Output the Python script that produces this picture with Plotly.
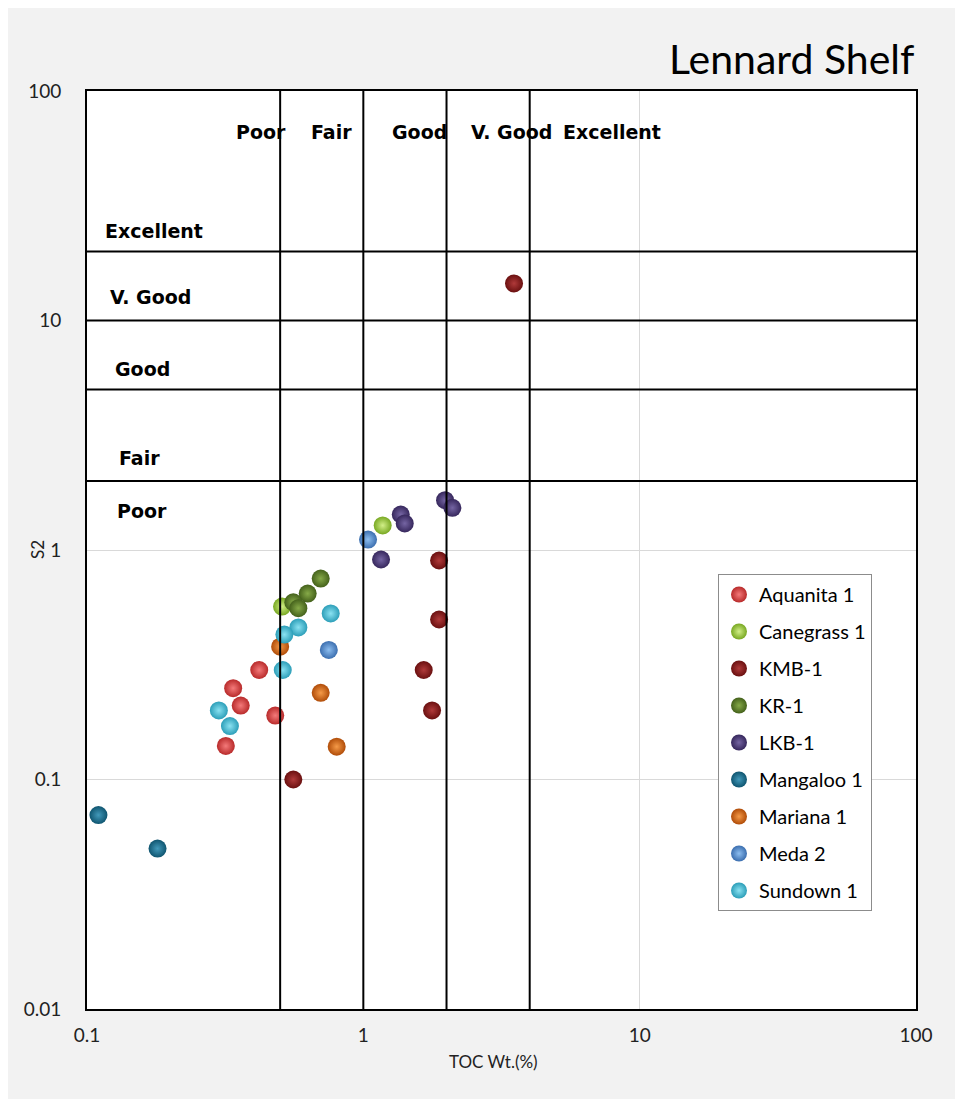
import plotly.graph_objects as go
import math

# ---------------- data ----------------
wells = ["Aquanita 1", "Canegrass 1", "KMB-1", "KR-1", "LKB-1",
         "Mangaloo 1", "Mariana 1", "Meda 2", "Sundown 1"]

aquanita_toc = [0.42, 0.338, 0.36, 0.48, 0.318]
aquanita_s2 = [0.30, 0.25, 0.21, 0.19, 0.14]

canegrass_toc = [1.175, 0.508]
canegrass_s2 = [1.28, 0.567]

kmb_toc = [3.51, 1.88, 1.88, 1.654, 1.773, 0.558]
kmb_s2 = [14.5, 0.90, 0.498, 0.30, 0.20, 0.10]

kr_toc = [0.701, 0.629, 0.558, 0.582]
kr_s2 = [0.751, 0.646, 0.592, 0.558]

lkb_toc = [1.976, 2.10, 1.366, 1.412, 1.159]
lkb_s2 = [1.648, 1.527, 1.428, 1.305, 0.909]

mangaloo_toc = [0.11, 0.18]
mangaloo_s2 = [0.07, 0.05]

mariana_toc = [0.50, 0.701, 0.801]
mariana_s2 = [0.379, 0.2385, 0.139]

meda_toc = [1.04, 0.75]
meda_s2 = [1.11, 0.367]

sundown_toc = [0.762, 0.582, 0.518, 0.511, 0.30, 0.329]
sundown_s2 = [0.529, 0.46, 0.428, 0.30, 0.20, 0.171]

toc_data = [aquanita_toc, canegrass_toc, kmb_toc, kr_toc, lkb_toc,
            mangaloo_toc, mariana_toc, meda_toc, sundown_toc]
s2_data = [aquanita_s2, canegrass_s2, kmb_s2, kr_s2, lkb_s2,
           mangaloo_s2, mariana_s2, meda_s2, sundown_s2]

# classification thresholds
toc_thresholds = [0.5, 1, 2, 4]
s2_thresholds = [2, 5, 10, 20]
class_labels = ["Poor", "Fair", "Good", "V. Good", "Excellent"]

x_ticks = [0.1, 1, 10, 100]
x_ticklabels = ["0.1", "1", "10", "100"]
y_ticks = [0.01, 0.1, 1, 10, 100]
y_ticklabels = ["0.01", "0.1", "1", "10", "100"]

# ---------------- styles ----------------
edge_colors = ["#b82a2a", "#78a822", "#6a1010", "#44611b", "#36275c",
               "#0f5570", "#b04c08", "#3b6eaf", "#2c9eb8"]
center_colors = ["#f47a7a", "#d2ef88", "#b03a3a", "#86aa48", "#7565a3",
                 "#4299ba", "#f59a48", "#8dbef0", "#8ae2f2"]

# label positions (data units)
top_label_x = [0.425, 0.77, 1.6, 3.44, 7.95]
top_label_y = 66
left_label_x = [0.1263, 0.1284, 0.1242, 0.119, 0.1143]
left_label_y = [1.48, 2.52, 6.15, 12.66, 24.5]

FONT = "Lato"
BOLD_FONT = "DejaVu Sans"

fig = go.Figure()

for i, name in enumerate(wells):
    fig.add_trace(go.Scatter(
        x=toc_data[i], y=s2_data[i], mode="markers", name=name,
        legendgroup=name,
        marker=dict(size=18, color=edge_colors[i],
                    gradient=dict(type="radial", color=center_colors[i]),
                    line=dict(width=0)),
    ))

# classification lines (drawn above markers)
for t in toc_thresholds:
    fig.add_trace(go.Scatter(x=[t, t], y=[y_ticks[0], y_ticks[-1]], mode="lines",
                             line=dict(color="black", width=2),
                             showlegend=False, hoverinfo="skip"))
for t in s2_thresholds:
    fig.add_trace(go.Scatter(x=[x_ticks[0], x_ticks[-1]], y=[t, t], mode="lines",
                             line=dict(color="black", width=2),
                             showlegend=False, hoverinfo="skip"))

annotations = []
for lab, xv in zip(class_labels, top_label_x):
    annotations.append(dict(x=math.log10(xv), y=math.log10(top_label_y), xref="x", yref="y",
                            text="<b>%s</b>" % lab, showarrow=False,
                            font=dict(family=BOLD_FONT, size=19, color="black"),
                            xanchor="center", yanchor="middle"))
for lab, xv, yv in zip(class_labels, left_label_x, left_label_y):
    annotations.append(dict(x=math.log10(xv), y=math.log10(yv), xref="x", yref="y",
                            text="<b>%s</b>" % lab, showarrow=False,
                            font=dict(family=BOLD_FONT, size=19, color="black"),
                            xanchor="left", yanchor="middle"))
# title
annotations.append(dict(x=1.0, y=1.0, xref="paper", yref="paper", yshift=33,
                        text="Lennard Shelf", showarrow=False,
                        font=dict(family=FONT, size=41, color="black"),
                        xanchor="right", yanchor="middle"))
# axis titles
annotations.append(dict(x=0.49, y=-0.0577, xref="paper", yref="paper",
                        text="TOC Wt.(%)", showarrow=False,
                        font=dict(family=FONT, size=17, color="#222"),
                        xanchor="center", yanchor="middle"))
annotations.append(dict(x=-0.0603, y=0.5, xref="paper", yref="paper",
                        text="S2", showarrow=False, textangle=-90,
                        font=dict(family=FONT, size=17, color="#222"),
                        xanchor="center", yanchor="middle"))

W, H = 955, 1091
ml, mt = 79, 83
pw, ph = 829, 918
mr, mb = W - ml - pw, H - mt - ph

fig.update_layout(
    width=W, height=H,
    margin=dict(l=ml, r=mr, t=mt, b=mb),
    paper_bgcolor="#f2f2f2",
    plot_bgcolor="white",
    font=dict(family=FONT, size=19, color="#222"),
    showlegend=True,
    legend=dict(x=(718 - 8 - ml) / pw, y=(1001 - 566) / ph, xanchor="left", yanchor="top",
                bgcolor="white", bordercolor="#8c8c8c", borderwidth=1,
                font=dict(family=FONT, size=20, color="black"),
                tracegroupgap=8, itemwidth=30),
    annotations=annotations,
)

fig.update_xaxes(type="log", range=[-1, 2], tickvals=x_ticks, ticktext=x_ticklabels,
                 showgrid=True, gridcolor="#d9d9d9", gridwidth=1,
                 showline=True, linecolor="black", linewidth=2, mirror=True,
                 ticks="", zeroline=False, ticklabelstandoff=8,
                 tickfont=dict(family=FONT, size=19, color="#222"))
fig.update_yaxes(type="log", range=[-2, 2], tickvals=y_ticks, ticktext=y_ticklabels,
                 showgrid=True, gridcolor="#d9d9d9", gridwidth=1,
                 showline=True, linecolor="black", linewidth=2, mirror=True,
                 ticks="", zeroline=False, ticklabelstandoff=20,
                 tickfont=dict(family=FONT, size=19, color="#222"))

fig.write_html("out.html")
